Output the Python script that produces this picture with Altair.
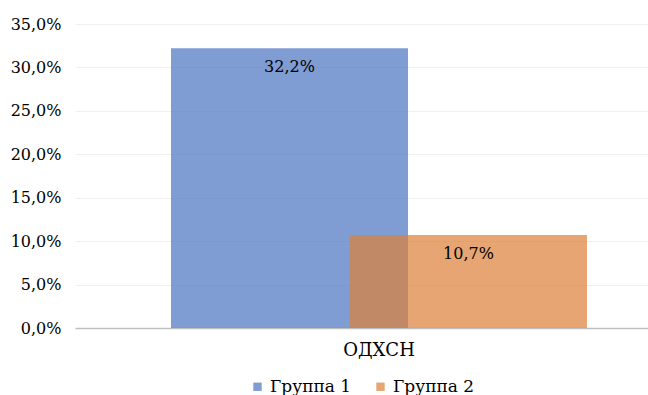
import altair as alt
import pandas as pd

category = ["ОДХСН", "ОДХСН"]
series = ["Группа 1", "Группа 2"]
values = [32.2, 10.7]
colors = ["#4D76C2", "#DC823C"]
y_ticks = [0, 5, 10, 15, 20, 25, 30, 35]

df = pd.DataFrame({"cat": category, "series": series, "value": values})

FONT = "DejaVu Serif"

x_enc = alt.X("cat:N", title=None,
              scale=alt.Scale(paddingInner=0, paddingOuter=0.3003, align=0.5814),
              axis=alt.Axis(labelAngle=0, ticks=False, labelFontSize=18, labelFont=FONT,
                            labelColor="#000000", labelPadding=13,
                            domainColor="#BFBFBF", domainWidth=1.5))
xo_enc = alt.XOffset("series:N", scale=alt.Scale(paddingInner=0, paddingOuter=0))
y_enc = alt.Y("value:Q", title=None,
              scale=alt.Scale(domain=[0, 35], nice=False),
              axis=alt.Axis(values=y_ticks, ticks=False, domain=False,
                            labelExpr="replace(format(datum.value, '.1f'), '.', ',') + '%'",
                            labelFontSize=16, labelFont=FONT, labelColor="#000000",
                            labelPadding=14, gridColor="#EFEFEF", gridWidth=1))

bars = alt.Chart(df).mark_bar(width=237, opacity=0.72).encode(
    x=x_enc,
    xOffset=xo_enc,
    y=y_enc,
    color=alt.Color("series:N", title=None,
                    scale=alt.Scale(domain=series, range=colors),
                    legend=alt.Legend(orient="none", direction="horizontal",
                                      legendX=174, legendY=354,
                                      symbolType="square", symbolSize=70,
                                      symbolOpacity=0.72, symbolStrokeWidth=0,
                                      labelFont=FONT, labelFontSize=17,
                                      labelColor="#000000", columnPadding=20,
                                      labelOffset=4)),
)

labels = alt.Chart(df).transform_calculate(
    label="replace(format(datum.value, '.1f'), '.', ',') + '%'"
).mark_text(dy=19, fontSize=16, font=FONT, color="#000000").encode(
    x=alt.X("cat:N"),
    xOffset=alt.XOffset("series:N"),
    y=alt.Y("value:Q"),
    text="label:N",
)

chart = alt.layer(bars, labels).properties(
    width=573, height=304,
    autosize=alt.AutoSizeParams(type="none"),
    padding={"left": 75, "top": 24, "right": 0, "bottom": 67},
    background="#FFFFFF",
).configure_view(stroke=None)

chart.save("out.html", embed_options={"renderer": "svg", "actions": False})
